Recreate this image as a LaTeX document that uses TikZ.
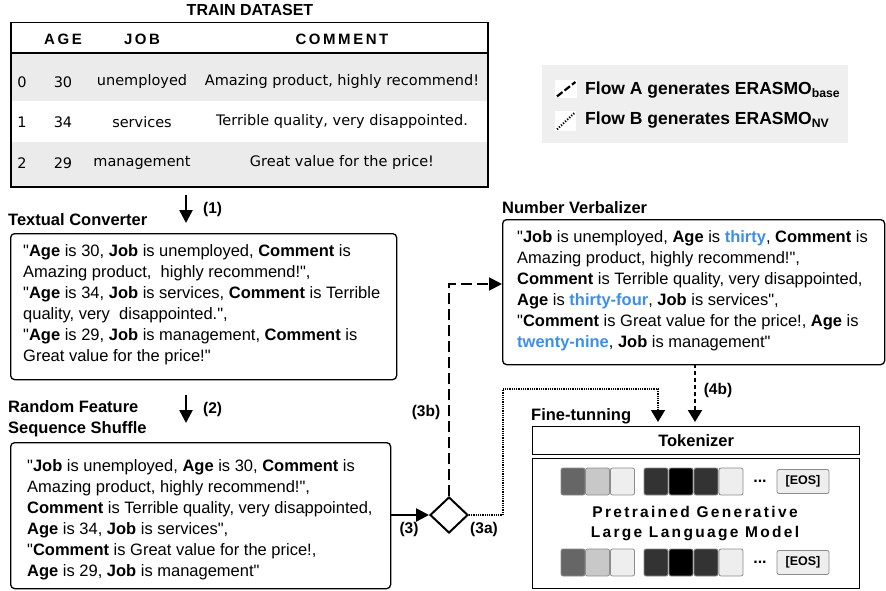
\documentclass[tikz,border=0pt]{standalone}
\usepackage{fontspec}
\setmainfont{Liberation Sans}[Ligatures=TeXOff]
\newfontfamily\tabfont{DejaVu Sans}
\newfontfamily\hdrfont[LetterSpace=17]{Liberation Sans}
\newfontfamily\llmfont[LetterSpace=15]{Liberation Sans}
\usetikzlibrary{arrows.meta,shapes.geometric,calc}
\definecolor{rowgray}{HTML}{EBEBEB}
\definecolor{leggray}{HTML}{EFEFEF}
\definecolor{nvblue}{HTML}{3D8FE6}
\definecolor{sqA}{HTML}{666666}
\definecolor{sqB}{HTML}{C8C8C8}
\definecolor{sqC}{HTML}{EEEEEE}
\definecolor{sqD}{HTML}{333333}
\definecolor{sqE}{HTML}{000000}
\newcommand\nvb[1]{\textcolor{nvblue}{\textbf{#1}}}
\tikzset{
  box/.style={draw, line width=1.3pt, rounded corners=4pt, inner sep=0pt, anchor=north west},
  sqbox/.style={draw, line width=1.3pt, inner sep=0pt, anchor=north west},
  txt/.style={inner sep=0pt, align=left, anchor=west, font=\fontsize{16.5}{21}\selectfont},
  lbl/.style={inner sep=0pt, align=left, anchor=west, font=\bfseries\fontsize{16.5}{21}\selectfont},
  num/.style={inner sep=0pt, font=\bfseries\fontsize{15.5}{18}\selectfont},
  tabtxt/.style={inner sep=0pt, font=\tabfont\fontsize{14.5}{17}\selectfont},
  tabhdr/.style={inner sep=0pt, font=\hdrfont\bfseries\fontsize{15}{17}\selectfont},
  bigarrow/.style={line width=2.4pt, -{Triangle[width=13pt,length=13pt]}},
  flowA/.style={line width=2pt, dash pattern=on 11pt off 5pt, -{Triangle[width=13pt,length=13pt]}},
  flowAshort/.style={line width=2.2pt, dash pattern=on 4pt off 3pt, -{Triangle[width=14pt,length=12pt]}},
  flowB/.style={line width=1.6pt, dash pattern=on 0.9pt off 0.9pt, -{Triangle[width=14pt,length=12pt]}},
  tok/.style={draw=black!45, line width=0.8pt, rounded corners=2pt, minimum width=24pt, minimum height=27pt, inner sep=0pt},
  eos/.style={draw=black!45, fill=sqC, line width=0.8pt, rounded corners=2pt, minimum width=52pt, minimum height=24pt, inner sep=0pt, font=\bfseries\fontsize{12.5}{14}\selectfont},
}
\begin{document}
\begin{tikzpicture}[x=1pt,y=-1pt]
\useasboundingbox (0,0) rectangle (886,591);

% ---------- Train dataset table ----------
\node[inner sep=0pt, font=\bfseries\fontsize{16}{18}\selectfont] (title) at (250,10) {TRAIN DATASET};
\fill[rowgray] (10,54) rectangle (487,101);
\fill[rowgray] (10,142) rectangle (487,186);
\node[sqbox, line width=1.5pt, minimum width=477pt, minimum height=164pt] (table) at (10,22) {};
\draw[line width=1.8pt] (table.west |- 0,53) -- (table.east |- 0,53);
\node[tabhdr] (hAge) at (63,39) {AGE};
\node[tabhdr] (hJob) at (142,39) {JOB};
\node[tabhdr] (hCom) at (342,39) {COMMENT};
\node[tabtxt] (r0i) at (22,82) {0};
\node[tabtxt] (r0a) at (63,82) {30};
\node[tabtxt] (r0j) at (142,82) {unemployed};
\node[tabtxt] (r0c) at (342,82) {Amazing product, highly recommend!};
\node[tabtxt] (r1i) at (22,122) {1};
\node[tabtxt] (r1a) at (63,122) {34};
\node[tabtxt] (r1j) at (142,122) {services};
\node[tabtxt] (r1c) at (342,122) {Terrible quality, very disappointed.};
\node[tabtxt] (r2i) at (22,163) {2};
\node[tabtxt] (r2a) at (63,163) {29};
\node[tabtxt] (r2j) at (142,163) {management};
\node[tabtxt] (r2c) at (342,163) {Great value for the price!};

% ---------- Legend ----------
\node[fill=leggray, inner sep=0pt, anchor=north west, minimum width=306pt, minimum height=78pt] (legend) at (542,65) {};
\node[fill=white, inner sep=0pt, anchor=north west, minimum width=22pt, minimum height=18pt] (icA) at (555,80) {};
\node[fill=white, inner sep=0pt, anchor=north west, minimum width=21pt, minimum height=20pt] (icB) at (555,111) {};
\draw[line width=2.2pt, dash pattern=on 7pt off 2.5pt] ($(icA.south west)+(2,-2)$) -- ($(icA.north east)+(-2,2)$);
\draw[line width=2pt, dash pattern=on 1.2pt off 1.6pt] ($(icB.south west)+(2,-2)$) -- ($(icB.north east)+(-2,2)$);
\node[lbl, font=\bfseries\fontsize{17.5}{20}\selectfont] (legA) at (585,90) {Flow A generates ERASMO\textsubscript{base}};
\node[lbl, font=\bfseries\fontsize{17.5}{20}\selectfont] (legB) at (585,120) {Flow B generates ERASMO\textsubscript{NV}};

% ---------- Textual converter ----------
\coordinate (a1s) at (186,195);
\coordinate (a1e) at (186,223);
\draw[bigarrow] (a1s) -- (a1e);
\node[num, anchor=west] (n1) at (203,209) {(1)};
\node[lbl] (tcl) at (8,220) {Textual Converter};
\node[box, minimum width=386pt, minimum height=146pt] (tc) at (10,233) {};
\node[txt] (tct) at (23,305) {"\textbf{Age} is 30, \textbf{Job} is unemployed, \textbf{Comment} is\\
Amazing product,\ \ highly recommend!",\\
"\textbf{Age} is 34, \textbf{Job} is services, \textbf{Comment} is Terrible\\
quality, very\ \ disappointed.",\\
"\textbf{Age} is 29, \textbf{Job} is management, \textbf{Comment} is\\
Great value for the price!"};

% ---------- Shuffle ----------
\coordinate (a2s) at (186,395);
\coordinate (a2e) at (186,423);
\draw[bigarrow] (a2s) -- (a2e);
\node[num, anchor=west] (n2) at (203,409) {(2)};
\node[lbl] (shl) at (8,418.5) {Random Feature\\Sequence Shuffle};
\node[box, minimum width=380pt, minimum height=146pt] (sh) at (10,442) {};
\node[txt] (sht) at (27,520) {"\textbf{Job} is unemployed, \textbf{Age} is 30, \textbf{Comment} is\\
Amazing product, highly recommend!",\\
\textbf{Comment} is Terrible quality, very disappointed,\\
\textbf{Age} is 34, \textbf{Job} is services",\\
"\textbf{Comment} is Great value for the price!,\\
\textbf{Age} is 29, \textbf{Job} is management"};

% ---------- Number verbalizer ----------
\node[lbl] (nvl) at (502,208) {Number Verbalizer};
\node[box, minimum width=382pt, minimum height=145pt] (nv) at (502,219) {};
\node[txt] (nvt) at (517,291) {"\textbf{Job} is unemployed, \textbf{Age} is \nvb{thirty}, \textbf{Comment} is\\
Amazing product, highly recommend!",\\
\textbf{Comment} is Terrible quality, very disappointed,\\
\textbf{Age} is \nvb{thirty-four}, \textbf{Job} is services",\\
"\textbf{Comment} is Great value for the price!, \textbf{Age} is\\
\nvb{twenty-nine}, \textbf{Job} is management"};

% ---------- Diamond and flows ----------
\node[draw, diamond, line width=2pt, minimum width=38pt, minimum height=36pt, inner sep=0pt] (dia) at (449,515) {};
\draw[bigarrow] (sh.east |- dia) -- (dia.west);
\node[num] (n3) at (409,529) {(3)};
\node[num] (n3a) at (484,529) {(3a)};
\node[num] (n3b) at (426,412) {(3b)};
\node[num] (n4b) at (718,390) {(4b)};

\coordinate (c3b) at (449,284);
\draw[flowA] (dia.north) -- (c3b) -- (c3b -| nv.west);

% ---------- Fine-tuning ----------
\node[lbl] (ftl) at (531,416) {Fine-tunning};
\node[sqbox, minimum width=327pt, minimum height=28pt] (tk) at (532,426) {};
\node[inner sep=0pt, font=\bfseries\fontsize{16.5}{20}\selectfont] (tkt) at (tk.center) {Tokenizer};
\node[sqbox, minimum width=327pt, minimum height=130pt] (llm) at (532,458) {};
\node[inner sep=0pt, font=\llmfont\bfseries\fontsize{15.5}{18}\selectfont] (llm1) at (695,512) {Pretrained Generative};
\node[inner sep=0pt, font=\llmfont\bfseries\fontsize{15.5}{18}\selectfont] (llm2) at (695,534) {Large Language Model};

\foreach \r/\yy in {u/481.5, d/562.5} {
  \node[tok, fill=sqA] (\r1) at (573,\yy) {};
  \node[tok, fill=sqB] (\r2) at (597.5,\yy) {};
  \node[tok, fill=sqC] (\r3) at (622.5,\yy) {};
  \node[tok, fill=sqD] (\r4) at (656,\yy) {};
  \node[tok, fill=sqE] (\r5) at (681,\yy) {};
  \node[tok, fill=sqD] (\r6) at (706,\yy) {};
  \node[tok, fill=sqC] (\r7) at (731,\yy) {};
  \node[inner sep=0pt, font=\bfseries\fontsize{16}{18}\selectfont] (\r dots) at (760,\yy) {...};
  \node[eos] (\r eos) at (803,\yy) {[EOS]};
}

\coordinate (c3a1) at (503,389);
\coordinate (c3a2) at (658,389);
\draw[flowB] (dia.east) -| (c3a1) -- (c3a2) -- ([yshift=4pt]c3a2 |- tk.north);
\coordinate (c4b) at (695,364);
\draw[flowAshort] (c4b) -- ([yshift=4pt]c4b |- tk.north);
\end{tikzpicture}
\end{document}
